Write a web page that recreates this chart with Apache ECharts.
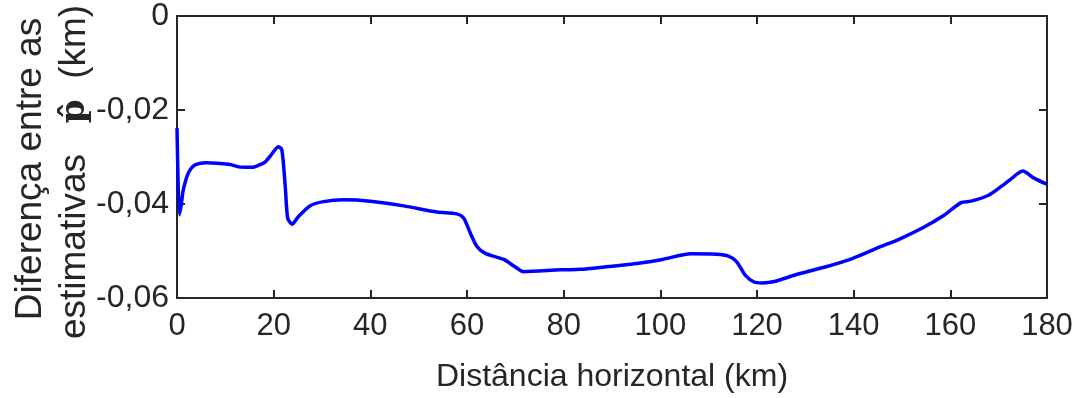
<!DOCTYPE html>
<html>
<head>
<meta charset="utf-8">
<script src="https://cdn.jsdelivr.net/npm/echarts@6/dist/echarts.min.js"></script>
<style>
  html, body { margin: 0; padding: 0; background: #fff; }
  #chart { width: 1092px; height: 398px; }
</style>
</head>
<body>
<div id="chart"></div>
<script>
const distKm = [
  0, 0.5, 0.9, 1.3, 2.35, 3.7, 6.1, 11.0, 12.7, 15.5, 16.8, 18.2, 19.6, 21.0,
  21.7, 22.4, 22.9, 23.8, 25.1, 27.5, 30.3, 34.4, 40, 46.9, 53.8, 57.9, 59.3,
  60.7, 62.1, 63.8, 67.6, 69.7, 71.7, 79.3, 83.5, 88.4, 95.5, 100.4, 106.3,
  111.6, 114.1, 115.8, 117.6, 119.4, 121.1, 123.6, 128.5, 134.1, 139.7, 145.3,
  149.6, 154.4, 158.7, 162.2, 164.3, 167.8, 170.6, 172.4, 175.0, 177.3, 180,
]
const diffKm = [
  -0.0238, -0.0423, -0.0400, -0.0370, -0.0334, -0.0317, -0.0312, -0.0316,
  -0.0321, -0.0322, -0.0318, -0.0311, -0.0294, -0.0278, -0.0285, -0.0363,
  -0.0430, -0.0443, -0.0427, -0.0404, -0.0395, -0.0391, -0.0394, -0.0404,
  -0.0417, -0.0421, -0.0430, -0.0462, -0.0491, -0.0505, -0.0518, -0.0532,
  -0.0544, -0.0540, -0.0539, -0.0534, -0.0526, -0.0518, -0.0506, -0.0507,
  -0.0511, -0.0523, -0.0552, -0.0566, -0.0568, -0.0565, -0.0549, -0.0534,
  -0.0516, -0.0492, -0.0474, -0.0450, -0.0424, -0.0397, -0.0394, -0.0382,
  -0.0362, -0.0348, -0.0330, -0.0345, -0.0358,
]
const xTicks = { min: 0, max: 180, interval: 20 }
const yTicks = { min: -0.06, max: 0, interval: 0.02 }
const xName = 'Distância horizontal (km)'
const yNameLine1 = 'Diferença entre as'

const ink = '#262626'
const font = 'Liberation Sans, Arial, sans-serif'

function decimal(value) {
  if (Math.abs(value) < 1e-9) return '0'
  return value.toFixed(2).replace('.', ',')
}

// matlab-style box: every side drawn, ticks pointing into the plot
function frame() {
  return {
    axisLine: { show: true, onZero: false, lineStyle: { color: ink, width: 2 } },
    axisTick: { show: true, inside: true, length: 8, lineStyle: { color: ink, width: 2 } },
    splitLine: { show: false },
  }
}

const chart = echarts.init(document.getElementById('chart'), null, { renderer: 'canvas' })

chart.setOption({
  animation: false,
  grid: { left: 177, right: 45, top: 16, bottom: 100 },
  xAxis: [
    {
      type: 'value',
      position: 'bottom',
      ...xTicks,
      ...frame(),
      axisLabel: { color: ink, fontSize: 31, fontFamily: font, margin: 13 },
      name: xName,
      nameLocation: 'middle',
      nameGap: 63,
      nameTextStyle: { color: ink, fontSize: 32, fontFamily: font },
    },
    {
      type: 'value',
      position: 'top',
      ...xTicks,
      ...frame(),
      axisLabel: { show: false },
    },
  ],
  yAxis: [
    {
      type: 'value',
      position: 'left',
      ...yTicks,
      ...frame(),
      axisLabel: {
        color: ink,
        fontSize: 32,
        fontFamily: font,
        margin: 8,
        formatter: decimal,
      },
    },
    {
      type: 'value',
      position: 'right',
      ...yTicks,
      ...frame(),
      axisLabel: { show: false },
    },
  ],
  graphic: [
    {
      type: 'text',
      x: 31,
      y: 169,
      rotation: Math.PI / 2,
      style: {
        text: yNameLine1,
        fill: ink,
        font: '37px ' + font,
        align: 'center',
        verticalAlign: 'middle',
      },
    },
    {
      type: 'text',
      x: 75,
      y: 172,
      rotation: Math.PI / 2,
      style: {
        text: '{a|estimativas   }{p|p\u0302}{a|  (km)}',
        fill: ink,
        align: 'center',
        verticalAlign: 'middle',
        rich: {
          a: { fontSize: 37, fontFamily: font, fill: ink },
          p: { fontSize: 34, fontFamily: 'DejaVu Serif', fontWeight: 'bold', fill: ink },
        },
      },
    },
  ],
  series: [
    {
      type: 'line',
      data: distKm.map((d, i) => [d, diffKm[i]]),
      showSymbol: false,
      smooth: 0.25,
      lineStyle: { color: '#0000ff', width: 3.5 },
      itemStyle: { color: '#0000ff' },
    },
  ],
})
</script>
</body>
</html>
